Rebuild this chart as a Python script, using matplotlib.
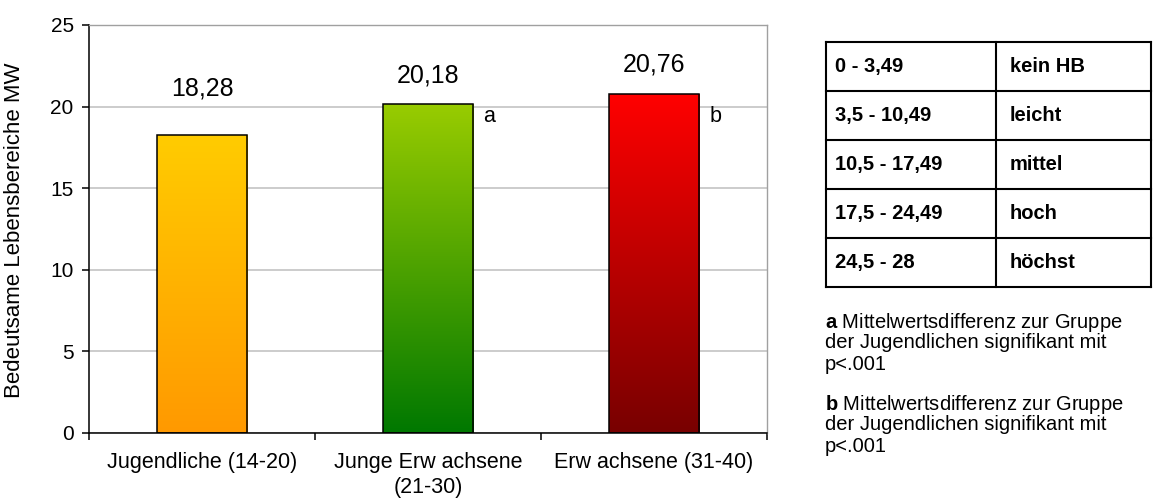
import numpy as np
import matplotlib.pyplot as plt
from matplotlib.colors import LinearSegmentedColormap

plt.rcParams['font.family'] = ['Liberation Sans', 'DejaVu Sans']
plt.rcParams['mathtext.fontset'] = 'custom'
plt.rcParams['mathtext.rm'] = 'Liberation Sans'
plt.rcParams['mathtext.bf'] = 'Liberation Sans:bold'

groups = ['Jugendliche (14-20)', 'Junge Erw achsene\n(21-30)', 'Erw achsene (31-40)']
means = [18.28, 20.18, 20.76]
value_labels = ['18,28', '20,18', '20,76']
sig_marks = ['', 'a', 'b']
# top / bottom colours of the bar gradients
grad_top = ['#ffcc00', '#99cc00', '#ff0000']
grad_bottom = ['#ff9900', '#007800', '#780000']
label_gap = [2.8, 1.7, 1.8]

ranges = ['0 - 3,49', '3,5 - 10,49', '10,5 - 17,49', '17,5 - 24,49', '24,5 - 28']
levels = ['kein HB', 'leicht', 'mittel', 'hoch', 'höchst']

notes = [
    (r'$\mathbf{a}$ Mittelwertsdifferenz zur Gruppe', 'der Jugendlichen signifikant mit', 'p<.001'),
    (r'$\mathbf{b}$ Mittelwertsdifferenz zur Gruppe', 'der Jugendlichen signifikant mit', 'p<.001'),
]

W, H = 1153, 501
fig = plt.figure(figsize=(W / 100, H / 100), dpi=100)
ax = fig.add_axes([89 / W, 1 - 433 / H, (767 - 89) / W, (433 - 25) / H])

x = np.arange(len(groups))
bw = 0.4
bars = ax.bar(x, means, width=bw, facecolor='none', edgecolor='black', linewidth=1.1, zorder=3)
for b, c0, c1 in zip(bars, grad_top, grad_bottom):
    cmap = LinearSegmentedColormap.from_list('g', [c1, c0])
    x0, y0 = b.get_x(), b.get_y()
    im = ax.imshow(np.linspace(0, 1, 256).reshape(-1, 1), cmap=cmap, aspect='auto',
                   origin='lower', extent=[x0, x0 + b.get_width(), y0, y0 + b.get_height()],
                   zorder=2)
    im.set_clip_path(b)

for xi, m, lab, gap, mark in zip(x, means, value_labels, label_gap, sig_marks):
    ax.text(xi, m + gap, lab, ha='center', va='center', fontsize=18)
    if mark:
        ax.text(xi + bw / 2 + 0.045, 19.4, mark, ha='left', va='center', fontsize=15.5)

ax.set_xlim(-0.5, 2.5)
ax.set_ylim(0, 25)
ax.set_yticks(range(0, 26, 5))
ax.yaxis.grid(True, color='#c8c8c8', linewidth=1.3, zorder=0)
ax.set_axisbelow(True)
ax.set_xticks(x)
ax.set_xticklabels(groups, fontsize=15.5, linespacing=1.2)
ax.set_xticks(np.arange(-0.5, 3, 1), minor=True)
ax.tick_params(axis='x', which='major', length=0, pad=14)
ax.tick_params(axis='x', which='minor', length=5, width=1.1, direction='out')
ax.tick_params(axis='y', length=5, width=1.1, pad=6, labelsize=15)
for s in ['left', 'bottom']:
    ax.spines[s].set_color('black')
    ax.spines[s].set_linewidth(1.1)
for s in ['top', 'right']:
    ax.spines[s].set_color('#a0a0a0')
    ax.spines[s].set_linewidth(1.0)

fig.text(15 / W, 1 - 230 / H, 'Bedeutsame Lebensbereiche MW', rotation=90,
         ha='center', va='center', fontsize=16)

# classification table and footnotes in pixel coordinates
ov = fig.add_axes([0, 0, 1, 1])
ov.set_xlim(0, W)
ov.set_ylim(H, 0)
ov.axis('off')
tx0, tx1, tcol = 826, 1151, 996
ty0, rh = 42, 49
n = len(ranges)
for i in range(n + 1):
    ov.plot([tx0, tx1], [ty0 + i * rh, ty0 + i * rh], color='black', lw=1.5)
for xv in (tx0, tcol, tx1):
    ov.plot([xv, xv], [ty0, ty0 + n * rh], color='black', lw=1.5)
for i, (r, l) in enumerate(zip(ranges, levels)):
    yc = ty0 + (i + 0.5) * rh
    ov.text(tx0 + 9, yc, r, ha='left', va='center', fontsize=14.5, fontweight='bold')
    ov.text(tcol + 14, yc, l, ha='left', va='center', fontsize=14.5, fontweight='bold')

for k, lines in enumerate(notes):
    for j, line in enumerate(lines):
        ov.text(825, 322 + k * 82 + j * 21, line, ha='left', va='center', fontsize=14.5)

fig.savefig('out.png', dpi=100, facecolor='white')
